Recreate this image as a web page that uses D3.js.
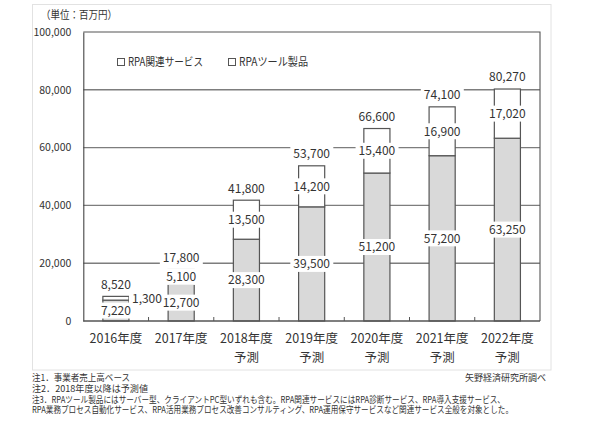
<!DOCTYPE html>
<html><head><meta charset="utf-8">
<script src="https://cdn.jsdelivr.net/npm/d3@7"></script>
<style>
html,body{margin:0;padding:0;background:#fff;}
svg{display:block;font-family:"Noto Sans CJK JP","Noto Sans",sans-serif;}
</style></head>
<body>
<svg id="c" width="590" height="431"></svg>
<script>
const categories = ["2016年度","2017年度","2018年度","2019年度","2020年度","2021年度","2022年度"];
const subLabels = ["","","予測","予測","予測","予測","予測"];
const serviceValues = [7220,12700,28300,39500,51200,57200,63250];
const toolValues = [1300,5100,13500,14200,15400,16900,17020];
const totalValues = [8520,17800,41800,53700,66600,74100,80270];
const yTicks = [0,20000,40000,60000,80000,100000];
const seriesNames = ["RPA関連サービス","RPAツール製品"];
const unitLabel = "（単位：百万円）";
const notes = [
  "注1．事業者売上高ベース",
  "注2．2018年度以降は予測値",
  "注3．RPAツール製品にはサーバー型、クライアントPC型いずれも含む。RPA関連サービスにはRPA診断サービス、RPA導入支援サービス、",
  "RPA業務プロセス自動化サービス、RPA活用業務プロセス改善コンサルティング、RPA運用保守サービスなど関連サービス全般を対象とした。"
];
const source = "矢野経済研究所調べ";

(function(){
const svg = d3.select("#c");
const pL = 83.3, pR = 540, pT = 32, pB = 321;
const x = d3.scaleBand().domain(categories).range([pL, pR]).paddingInner(0.6).paddingOuter(0.3);
const y = d3.scaleLinear().domain([0, 100000]).range([pB, pT]);
const fmt = d3.format(",");
const txt = "#333";

// outer frame
svg.append("rect").attr("x",32.5).attr("y",4.5).attr("width",518.5).attr("height",365.5)
  .attr("fill","none").attr("stroke","#e2e2e2").attr("stroke-width",1);

// unit
svg.append("text").attr("x",41).attr("y",19).attr("font-size",11).attr("fill",txt)
  .attr("textLength",76).attr("lengthAdjust","spacingAndGlyphs").text(unitLabel);

// gridlines
svg.append("g").selectAll("line").data(yTicks.filter(d => d > 0 && d < 100000)).join("line")
  .attr("x1",pL).attr("x2",pR).attr("y1",d=>y(d)).attr("y2",d=>y(d))
  .attr("stroke","#7d7d7d").attr("stroke-width",1.4);

// plot border (top, right)
svg.append("path").attr("d",`M${pL},${y(100000)}H${pR}V${pB}`)
  .attr("fill","none").attr("stroke","#555").attr("stroke-width",1.1);

// y axis
const ya = svg.append("g").attr("transform",`translate(${pL},0)`)
  .call(d3.axisLeft(y).tickValues(yTicks).tickFormat(fmt).tickSize(0).tickPadding(12));
ya.select(".domain").attr("stroke","#444").attr("stroke-width",1.1);
ya.selectAll("text").attr("font-size",10.5).attr("fill",txt).attr("font-family",'"Noto Sans CJK JP",sans-serif');

// bars
const data = categories.map((c,i)=>({c, s:serviceValues[i], t:toolValues[i], tot:totalValues[i]}));
const bw = x.bandwidth();
const g = svg.append("g");
g.selectAll("rect.s").data(data).join("rect").attr("class","s")
  .attr("x",d=>x(d.c)).attr("width",bw).attr("y",d=>y(d.s)).attr("height",d=>y(0)-y(d.s))
  .attr("fill","#d9d9d9").attr("stroke","#555").attr("stroke-width",1.2);
g.selectAll("rect.t").data(data).join("rect").attr("class","t")
  .attr("x",d=>x(d.c)).attr("width",bw).attr("y",d=>y(d.s+d.t)).attr("height",d=>y(d.s)-y(d.s+d.t))
  .attr("fill","#fff").attr("stroke","#555").attr("stroke-width",1.2);

// x axis
const xa = svg.append("g").attr("transform",`translate(0,${pB})`);
xa.append("line").attr("x1",pL).attr("x2",pR).attr("stroke","#555").attr("stroke-width",1.4);
const bounds = d3.range(1, categories.length).map(i => pL + x.step()*i);
xa.selectAll("line.tk").data(bounds).join("line").attr("class","tk")
  .attr("x1",d=>d).attr("x2",d=>d).attr("y1",0).attr("y2",-4).attr("stroke","#555");
svg.append("g").selectAll("text").data(categories).join("text")
  .attr("x",d=>x(d)+bw/2).attr("y",343).attr("text-anchor","middle").attr("font-size",12.5).attr("fill",txt).text(d=>d);
svg.append("g").selectAll("text").data(subLabels).join("text")
  .attr("x",(d,i)=>x(categories[i])+bw/2).attr("y",362).attr("text-anchor","middle").attr("font-size",12.5).attr("fill",txt).text(d=>d);

// labels
const labels = [];
data.forEach((d,i)=>{
  const cx = x(d.c)+bw/2;
  labels.push({x:cx, y:(y(0)+y(d.s))/2, t:fmt(d.s), a:"middle"});
  const th = y(d.s)-y(d.s+d.t);
  if (th < 12) labels.push({x:x(d.c)+bw+3, y:(y(d.s)+y(d.s+d.t))/2, t:fmt(d.t), a:"start"});
  else labels.push({x:cx, y:(y(d.s)+y(d.s+d.t))/2, t:fmt(d.t), a:"middle"});
  labels.push({x:cx, y:y(d.tot)-12, t:fmt(d.tot), a:"middle"});
});
const lg = svg.append("g");
labels.forEach(l=>{
  const t = lg.append("text").attr("x",l.x).attr("y",l.y).attr("dy","0.36em")
    .attr("text-anchor",l.a).attr("font-size",12).attr("fill",txt).text(l.t);
  const bb = t.node().getBBox();
  lg.insert("rect","text").attr("x",bb.x-3).attr("y",l.y-8).attr("width",bb.width+6).attr("height",16).attr("fill","#fff");
});
lg.selectAll("text").raise();

// legend
const legX = [117, 228];
const legW = [75, 69];
seriesNames.forEach((n,i)=>{
  svg.append("rect").attr("x",legX[i]+0.5).attr("y",58.5).attr("width",7).attr("height",7)
    .attr("fill","#fff").attr("stroke","#555").attr("stroke-width",1);
  svg.append("text").attr("x",legX[i]+11).attr("y",62).attr("dy","0.36em").attr("font-size",11.5).attr("fill",txt)
    .attr("textLength",legW[i]).attr("lengthAdjust","spacingAndGlyphs").text(n);
});

// notes
const ny = [378, 388.5, 399.5, 410];
const nw = [98, 116, 473, 481];
notes.forEach((n,i)=>{
  svg.append("text").attr("x",32).attr("y",ny[i]).attr("dy","0.36em").attr("font-size",9).attr("fill",txt)
    .attr("textLength",nw[i]).attr("lengthAdjust","spacingAndGlyphs").text(n);
});
svg.append("text").attr("x",546).attr("y",378).attr("dy","0.36em").attr("text-anchor","end").attr("font-size",9).attr("fill",txt).text(source);
})();
</script>
</body></html>
